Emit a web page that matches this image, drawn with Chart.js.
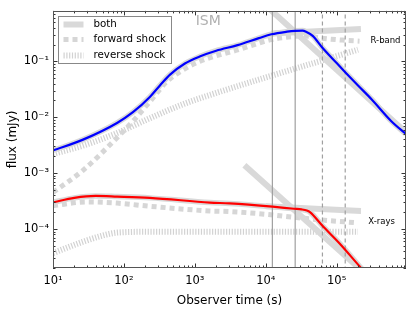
<!DOCTYPE html>
<html><head><meta charset="utf-8">
<script src="https://cdn.jsdelivr.net/npm/chart.js@4"></script>
<style>html,body{margin:0;padding:0;background:#fff}</style>
</head><body>
<canvas id="c" width="411" height="310"></canvas>
<script>
// ---- axis ranges & tick labels ----
const xRange = [10, 9.5e5];
const yRange = [2e-5, 0.8];
const xDecades = [10, 100, 1000, 10000, 100000];
const xTickLabels = ['10¹', '10²', '10³', '10⁴', '10⁵'];
const yDecades = [1e-4, 1e-3, 1e-2, 1e-1];
const yTickLabels = ['10⁻⁴', '10⁻³', '10⁻²', '10⁻¹'];

// ---- R-band ----
const rTime  = [10, 26.5, 80, 134, 232, 322, 447, 724, 1170, 2000, 4000, 8000, 12000, 20000, 26000, 33000, 37000, 46000, 63000, 100000, 132000, 200000, 310000, 590000, 950000];
const rTotal = [2.54e-3, 3.97e-3, 7.9e-3, 0.0123, 0.0231, 0.0371, 0.0578, 0.0914, 0.122, 0.155, 0.195, 0.26, 0.305, 0.34, 0.352, 0.355, 0.34, 0.286, 0.175, 0.093, 0.064, 0.037, 0.021, 0.0085, 0.005];
const rFwdTime = [10, 26.5, 80, 134, 232, 400, 616, 1170, 4000, 12000, 25000, 35000, 60000, 120000, 210000];
const rFwd     = [4.5e-4, 1.12e-3, 4.3e-3, 8.5e-3, 0.019, 0.043, 0.065, 0.1, 0.16, 0.245, 0.28, 0.285, 0.26, 0.24, 0.23];
const rRevTime = [10, 26.5, 80, 232, 677, 1630, 200000];
const rRev     = [2.2e-3, 3.1e-3, 5.2e-3, 9.6e-3, 0.017, 0.025, 0.162];
const rFlatTime = [12000, 220000];
const rFlat     = [0.315, 0.38];
const rDecayTime = [10000, 950000];
const rDecay     = [1.0, 5.3e-3];

// ---- X-rays ----
const xTime  = [10, 20, 40, 80, 232, 1630, 3100, 12500, 25000, 32000, 38000, 42000, 63000, 110000, 210000, 300000];
const xTotal = [3.0e-4, 3.6e-4, 3.9e-4, 3.8e-4, 3.6e-4, 2.97e-4, 2.86e-4, 2.5e-4, 2.3e-4, 2.24e-4, 2.14e-4, 2.0e-4, 1.14e-4, 5.5e-5, 2.15e-5, 1.3e-5];
const xFwdTime = [10, 30, 80, 232, 1620, 3100, 10000, 27000, 60000, 180000];
const xFwd     = [2.6e-4, 3.05e-4, 2.9e-4, 2.55e-4, 2.1e-4, 2.05e-4, 1.83e-4, 1.6e-4, 1.45e-4, 1.3e-4];
const xRevTime = [10, 26.5, 50, 80, 232, 200000];
const xRev     = [3.7e-5, 5.9e-5, 7.6e-5, 8.6e-5, 8.9e-5, 8.9e-5];
const xFlatTime = [10000, 220000];
const xFlat     = [2.55e-4, 2.1e-4];
const xDecayTime = [5000, 190000];
const xDecay     = [1.38e-3, 2.2e-5];

// ---- vertical markers ----
const solidMarks  = [1.24e4, 2.6e4];
const dashedMarks = [6.3e4, 1.32e5];

// ---- annotations ----
const notes = [
  {text: 'ISM', t: 1030, f: 0.53, size: 14, color: '#b0b0b0'},
  {text: 'R-band', t: 3.0e5, f: 0.232, size: 8.5, color: '#000'},
  {text: 'X-rays', t: 2.8e5, f: 1.33e-4, size: 8.5, color: '#000'}
];
const legendItems = ['both', 'forward shock', 'reverse shock'];

const FONT = '"DejaVu Sans", "Liberation Sans", sans-serif';
const GRAY_SOLID = '#d9d9d9', GRAY_DASH = '#d6d6d6', GRAY_DOT = '#d2d2d2';
const styles = {
  both:    {borderColor: GRAY_SOLID, borderWidth: 6, borderDash: []},
  forward: {borderColor: GRAY_DASH, borderWidth: 5, borderDash: [5, 4]},
  reverse: {borderColor: GRAY_DOT, borderWidth: 6, borderDash: [1.2, 1.6]}
};

const pts = (ts, fs) => ts.map((t, i) => ({x: t, y: fs[i]}));
function ds(ts, fs, st, order, extra) {
  return Object.assign({
    data: pts(ts, fs), pointRadius: 0, fill: false, order: order,
    cubicInterpolationMode: 'monotone', borderCapStyle: 'butt'
  }, st, extra || {});
}
function vline(t, dash) {
  return {data: [{x: t, y: 1e-7}, {x: t, y: 10}], borderColor: '#a0a0a0', borderWidth: 1.2,
          borderDash: dash, pointRadius: 0, fill: false, order: 1, tension: 0};
}

const datasets = [
  ds(rTime, rTotal, {borderColor: '#0000ff', borderWidth: 2.2}, 0),
  ds(xTime, xTotal, {borderColor: '#ff0000', borderWidth: 2.2}, 0),
  ...solidMarks.map(t => vline(t, [])),
  ...dashedMarks.map(t => vline(t, [4, 3])),
  ds(rTime, rTotal, {borderColor: GRAY_SOLID, borderWidth: 5.5}, 2),
  ds(xTime, xTotal, {borderColor: GRAY_SOLID, borderWidth: 5.5}, 2),
  ds(rFlatTime, rFlat, styles.both, 2, {tension: 0}),
  ds(rDecayTime, rDecay, styles.both, 2, {tension: 0}),
  ds(xFlatTime, xFlat, styles.both, 2, {tension: 0}),
  ds(xDecayTime, xDecay, styles.both, 2, {tension: 0}),
  ds(rFwdTime, rFwd, styles.forward, 3),
  ds(xFwdTime, xFwd, styles.forward, 3),
  ds(rRevTime, rRev, styles.reverse, 4),
  ds(xRevTime, xRev, styles.reverse, 4)
];

const isDecade = v => Math.abs(Math.log10(v) - Math.round(Math.log10(v))) < 1e-9;
function logTicks(min, max) {
  const out = [];
  for (let e = Math.floor(Math.log10(min)); e <= Math.ceil(Math.log10(max)); e++) {
    for (let m = 1; m <= 9; m++) {
      const v = m * Math.pow(10, e);
      if (v >= min * (1 - 1e-9) && v <= max * (1 + 1e-9)) out.push(v);
    }
  }
  return out;
}
function labelFor(v, decs, labels) {
  if (!isDecade(v)) return '';
  const i = decs.findIndex(d => Math.abs(Math.log10(d) - Math.log10(v)) < 1e-9);
  return i >= 0 ? labels[i] : '';
}

const framePlugin = {
  id: 'frame',
  afterDraw(chart) {
    const {ctx, chartArea: a, scales: {x, y}} = chart;
    ctx.save();
    ctx.strokeStyle = '#333';
    ctx.lineWidth = 1;
    ctx.beginPath();
    x.ticks.forEach(t => {
      const p = Math.round(x.getPixelForValue(t.value)) + 0.5;
      const L = isDecade(t.value) ? 4.5 : 2.5;
      ctx.moveTo(p, a.bottom); ctx.lineTo(p, a.bottom - L);
      ctx.moveTo(p, a.top); ctx.lineTo(p, a.top + L);
    });
    y.ticks.forEach(t => {
      const p = Math.round(y.getPixelForValue(t.value)) + 0.5;
      const L = isDecade(t.value) ? 4.5 : 2.5;
      ctx.moveTo(a.left, p); ctx.lineTo(a.left + L, p);
      ctx.moveTo(a.right, p); ctx.lineTo(a.right - L, p);
    });
    ctx.stroke();
    ctx.strokeStyle = '#555';
    ctx.strokeRect(Math.round(a.left) + 0.5, Math.round(a.top) + 0.5,
                   Math.round(a.width) - 1, Math.round(a.height) - 1);

    // annotations
    notes.forEach(n => {
      ctx.font = n.size + 'px ' + FONT;
      ctx.fillStyle = n.color;
      ctx.textAlign = 'left';
      ctx.textBaseline = 'middle';
      ctx.fillText(n.text, x.getPixelForValue(n.t), y.getPixelForValue(n.f));
    });

    // legend
    const bx = Math.round(a.left) + 5.5, by = Math.round(a.top) + 5.5, bw = 113, bh = 47;
    ctx.fillStyle = '#fff';
    ctx.fillRect(bx, by, bw, bh);
    ctx.strokeStyle = '#888';
    ctx.lineWidth = 1;
    ctx.strokeRect(bx, by, bw, bh);
    const keys = ['both', 'forward', 'reverse'];
    const rows = [8, 23, 39];
    legendItems.forEach((label, i) => {
      const st = styles[keys[i]];
      ctx.save();
      ctx.strokeStyle = st.borderColor;
      ctx.lineWidth = st.borderWidth;
      ctx.setLineDash(st.borderDash);
      ctx.lineCap = 'butt';
      ctx.beginPath();
      ctx.moveTo(bx + 5, by + rows[i]);
      ctx.lineTo(bx + 25, by + rows[i]);
      ctx.stroke();
      ctx.restore();
      ctx.font = '10.3px ' + FONT;
      ctx.fillStyle = '#000';
      ctx.textAlign = 'left';
      ctx.textBaseline = 'middle';
      ctx.fillText(label, bx + 35, by + rows[i]);
    });
    ctx.restore();
  }
};

new Chart(document.getElementById('c'), {
  type: 'line',
  data: {datasets},
  options: {
    responsive: false,
    animation: false,
    events: [],
    layout: {padding: {top: 7, right: 5, left: 0, bottom: 0}},
    plugins: {legend: {display: false}, tooltip: {enabled: false}},
    scales: {
      x: {
        type: 'logarithmic', min: xRange[0], max: xRange[1],
        grid: {display: false, drawTicks: false}, border: {display: false},
        afterBuildTicks: s => { s.ticks = logTicks(xRange[0], xRange[1]).map(v => ({value: v})); },
        afterFit: s => { s.height = 42; },
        ticks: {autoSkip: false, maxRotation: 0, padding: 6, color: '#000',
                font: {family: FONT, size: 11.5},
                callback: v => labelFor(v, xDecades, xTickLabels)},
        title: {display: true, text: 'Observer time (s)', color: '#000',
                font: {family: FONT, size: 12}, padding: {top: 0, bottom: 2}}
      },
      y: {
        type: 'logarithmic', min: yRange[0], max: yRange[1],
        grid: {display: false, drawTicks: false}, border: {display: false},
        afterBuildTicks: s => { s.ticks = logTicks(yRange[0], yRange[1]).map(v => ({value: v})); },
        afterFit: s => { s.width = 53; },
        ticks: {autoSkip: false, padding: 4, color: '#000',
                font: {family: FONT, size: 11.5},
                callback: v => labelFor(v, yDecades, yTickLabels)},
        title: {display: true, text: 'flux (mJy)', color: '#000',
                font: {family: FONT, size: 12}, padding: {top: 6, bottom: 0}}
      }
    }
  },
  plugins: [framePlugin]
});
</script>
</body></html>
